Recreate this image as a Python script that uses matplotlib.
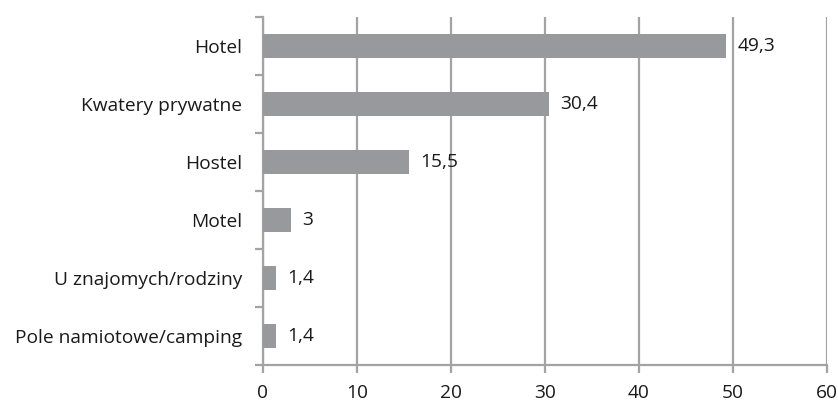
import numpy as np
import matplotlib.pyplot as plt

categories = ['Hotel', 'Kwatery prywatne', 'Hostel', 'Motel', 'U znajomych/rodziny', 'Pole namiotowe/camping']
values = [49.3, 30.4, 15.5, 3, 1.4, 1.4]
labels = ['49,3', '30,4', '15,5', '3', '1,4', '1,4']

plt.rcParams['font.family'] = ['Open Sans', 'DejaVu Sans']

bar_color = '#98999d'
grid_color = '#a3a3a3'
text_color = '#1a1a1a'
fs = 13.8

fig = plt.figure(figsize=(8.38, 4.01), dpi=100)
ax = fig.add_axes([0.3138, 0.0898, 0.6731, 0.8678])

y = np.arange(len(categories))[::-1]
ax.barh(y, values, height=0.4, color=bar_color, zorder=3)

for yi, v, lab in zip(y, values, labels):
    ax.annotate(lab, (v, yi), xytext=(8, 0), textcoords='offset points',
                va='center', ha='left', fontsize=fs, color=text_color)

ax.set_xlim(0, 60)
ax.set_ylim(-0.5, len(categories) - 0.5)
ax.set_xticks(np.arange(0, 61, 10))
ax.xaxis.grid(True, color=grid_color, linewidth=1.6, zorder=0)

ax.set_yticks(y)
ax.set_yticklabels(categories)
ax.set_yticks(np.arange(-0.5, len(categories), 1), minor=True)
ax.tick_params(axis='y', which='major', length=0, pad=15, labelsize=fs, labelcolor=text_color)
ax.tick_params(axis='y', which='minor', length=6, width=1.6, color=grid_color)
ax.tick_params(axis='x', length=6, width=1.6, color=grid_color, labelsize=fs, labelcolor=text_color, pad=8)

for s in ['top', 'right']:
    ax.spines[s].set_visible(False)
for s in ['left', 'bottom']:
    ax.spines[s].set_color(grid_color)
    ax.spines[s].set_linewidth(1.6)

fig.savefig('out.png', dpi=100)
